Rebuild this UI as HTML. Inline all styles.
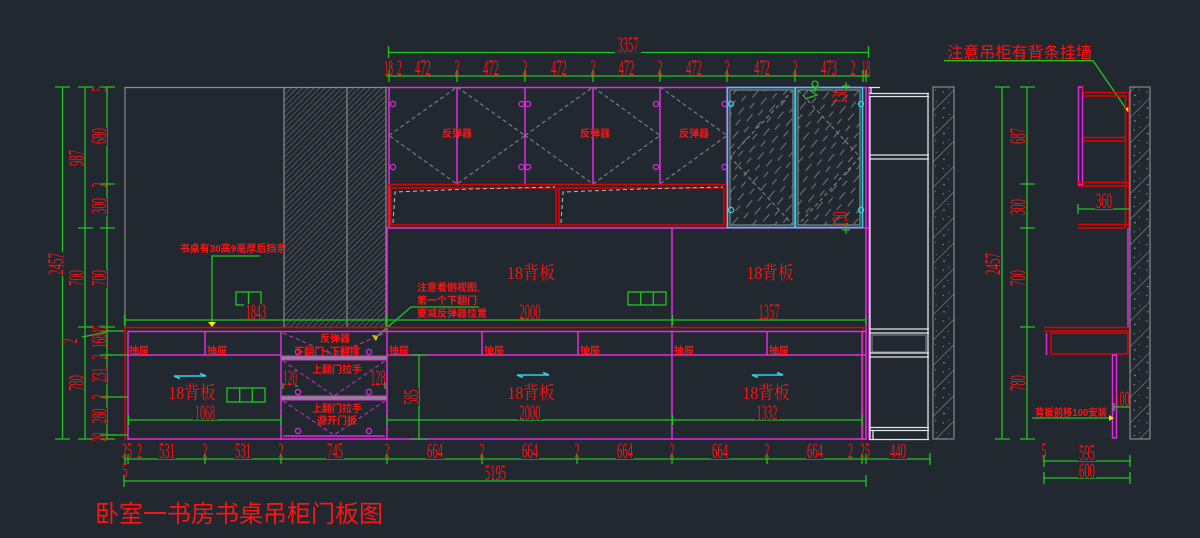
<!DOCTYPE html>
<html><head><meta charset="utf-8"><style>
html,body{margin:0;padding:0;background:#212830;width:1200px;height:538px;overflow:hidden}
svg{display:block}
.g{stroke:#22c422;stroke-width:1.3;fill:none}
.m{stroke:#e02de0;stroke-width:1.5;fill:none}
.r{stroke:#e00000;stroke-width:1.5;fill:none}
.gr{stroke:#8a8a8a;stroke-width:1.2;fill:none}
.c{stroke:#2fd3ea;stroke-width:1.6;fill:none}
.w{stroke:#e6e6e6;stroke-width:1.3;fill:none}
.dm{stroke:#d030d0;stroke-width:1;fill:none;stroke-dasharray:4 3}
.dg{stroke:#8c8c8c;stroke-width:1;fill:none;stroke-dasharray:4 3}
text{fill:#ff1414}
.d{font-family:"Liberation Serif",serif;font-size:22px}
.s{font-family:"Liberation Sans","Noto Sans CJK SC",sans-serif;font-size:10px;font-weight:bold}
.b{font-family:"Liberation Serif","Noto Serif CJK SC",serif;font-size:18px}
.bg{fill:#212830}
</style></head><body>
<svg width="1200" height="538" viewBox="0 0 1200 538" xmlns="http://www.w3.org/2000/svg">
<defs>
<pattern id="h1" width="4" height="4" patternUnits="userSpaceOnUse" patternTransform="rotate(45)"><line x1="0" y1="0" x2="0" y2="4" stroke="#7d7d7d" stroke-width="1"/></pattern>
<pattern id="hg" width="11" height="22" patternUnits="userSpaceOnUse" patternTransform="rotate(40)"><line x1="1" y1="0" x2="1" y2="9" stroke="#8a8a8a" stroke-width="0.8"/><line x1="6" y1="12" x2="6" y2="19" stroke="#8a8a8a" stroke-width="0.8"/></pattern>
<pattern id="hw" width="18" height="18" patternUnits="userSpaceOnUse" patternTransform="rotate(45)"><line x1="0" y1="0" x2="0" y2="18" stroke="#9a9a9a" stroke-width="1"/><circle cx="6" cy="3" r="0.7" fill="#b0b0b0"/><circle cx="12" cy="10" r="0.6" fill="#b0b0b0"/><circle cx="5" cy="14" r="0.5" fill="#b0b0b0"/><circle cx="14" cy="4" r="0.5" fill="#b0b0b0"/></pattern>
</defs>
<rect width="1200" height="538" fill="#212830"/>

<!-- ===== TOP DIMENSIONS ===== -->
<path class="g" d="M388 52.5H868 M388.5 46v12 M868.5 46v12 M386 76H870"/>
<path class="g" d="M389 70v12 M457 70v12 M525 70v12 M593 70v12 M660 70v12 M727 70v12 M795 70v12 M863 70v12 M866 70v12"/>
<rect class="bg" x="615" y="37" width="26" height="16"/>
<text class="d" x="628" y="52" text-anchor="middle" textLength="21" lengthAdjust="spacingAndGlyphs">3357</text>
<g class="d" text-anchor="middle">
<text x="388.5" y="75" textLength="9" lengthAdjust="spacingAndGlyphs">18</text>
<text x="399.5" y="75" textLength="5" lengthAdjust="spacingAndGlyphs">2</text>
<text x="423" y="75" textLength="16" lengthAdjust="spacingAndGlyphs">472</text>
<text x="457" y="75" textLength="5" lengthAdjust="spacingAndGlyphs">2</text>
<text x="491" y="75" textLength="16" lengthAdjust="spacingAndGlyphs">472</text>
<text x="525" y="75" textLength="5" lengthAdjust="spacingAndGlyphs">2</text>
<text x="559" y="75" textLength="16" lengthAdjust="spacingAndGlyphs">472</text>
<text x="593" y="75" textLength="5" lengthAdjust="spacingAndGlyphs">2</text>
<text x="626.5" y="75" textLength="16" lengthAdjust="spacingAndGlyphs">472</text>
<text x="660" y="75" textLength="5" lengthAdjust="spacingAndGlyphs">2</text>
<text x="694" y="75" textLength="16" lengthAdjust="spacingAndGlyphs">472</text>
<text x="727" y="75" textLength="5" lengthAdjust="spacingAndGlyphs">2</text>
<text x="762" y="75" textLength="16" lengthAdjust="spacingAndGlyphs">472</text>
<text x="795" y="75" textLength="5" lengthAdjust="spacingAndGlyphs">2</text>
<text x="829" y="75" textLength="16" lengthAdjust="spacingAndGlyphs">473</text>
<text x="853" y="75" textLength="5" lengthAdjust="spacingAndGlyphs">2</text>
<text x="866" y="75" textLength="9" lengthAdjust="spacingAndGlyphs">18</text>
</g>

<!-- ===== LEFT PANEL & HATCH COLUMNS ===== -->
<path class="gr" d="M124.5 87.5H388 M125 87V328"/>
<rect x="284" y="87.5" width="102" height="240" fill="url(#h1)"/>
<path class="gr" d="M284 87.5V328 M347 87.5V328 M386 87.5V328"/>

<!-- ===== UPPER CABINET ===== -->
<path class="m" d="M388 87.5H869 M389 87V228 M457 87V184 M525 87V184 M593 87V184 M660 87V184 M727 87V228 M866 87V440 M869 87V440"/>
<path class="dg" d="M389 135.5L457 87L525 135.5L457 184Z M525 135.5L593 87L660 135.5L593 184Z M660 87L727 135.5L660 184"/>
<g fill="none" stroke="#e02de0" stroke-width="1.2">
<circle cx="393" cy="104" r="2.6"/><circle cx="393" cy="167" r="2.6"/>
<circle cx="521.5" cy="104" r="2.6"/><circle cx="528" cy="104" r="2.6"/>
<circle cx="521.5" cy="167" r="2.6"/><circle cx="528" cy="167" r="2.6"/>
<circle cx="656" cy="104" r="2.6"/><circle cx="656" cy="167" r="2.6"/>
<circle cx="724.5" cy="104" r="2.6"/><circle cx="724.5" cy="167" r="2.6"/>
</g>
<text class="s" x="457" y="137" text-anchor="middle">反弹器</text>
<text class="s" x="595" y="137" text-anchor="middle">反弹器</text>
<text class="s" x="694" y="137" text-anchor="middle">反弹器</text>
<rect class="r" x="388" y="184.5" width="339" height="43"/>
<rect class="r" x="391" y="188" width="165" height="37"/>
<rect class="r" x="559" y="188" width="165" height="37"/>
<path d="M393 223L395 192L470 189L555 187 M561 223L563 192L640 189L723 187" stroke="#bbbbbb" stroke-width="1" fill="none" stroke-dasharray="4 3"/>
<path class="m" d="M386 228H869"/>

<!-- glass doors -->
<rect x="730" y="90" width="63" height="135" fill="url(#hg)"/>
<rect x="798" y="90" width="62" height="135" fill="url(#hg)"/>
<rect class="gr" x="730" y="90" width="63" height="135"/>
<rect class="gr" x="798" y="90" width="62" height="135"/>
<path class="dg" d="M793 90L730 157L793 225 M798 90L860 157L798 225"/>
<rect class="c" x="727.5" y="87.5" width="67.5" height="140"/>
<rect class="c" x="795.5" y="87.5" width="67" height="140"/>
<g fill="none" stroke="#2fd3ea" stroke-width="1.2">
<circle cx="731" cy="104" r="2.6"/><circle cx="731" cy="210" r="2.6"/>
<circle cx="861" cy="104" r="2.6"/><circle cx="861" cy="210" r="2.6"/>
</g>
<path class="g" d="M805 99L817 95L811 91L819 87 M846 82v8 M842 86h8 M846 226v8 M842 230h8"/>
<circle cx="815" cy="84" r="3" class="g"/>
<text class="d" transform="translate(847,96) rotate(-90)" text-anchor="middle" textLength="15" lengthAdjust="spacingAndGlyphs">130</text>
<text class="d" transform="translate(847,219) rotate(-90)" text-anchor="middle" textLength="15" lengthAdjust="spacingAndGlyphs">130</text>

<!-- ===== MIDDLE SECTION ===== -->
<path class="m" d="M387 228V440 M672 228V328"/>
<text class="b" x="531" y="279" text-anchor="middle" textLength="48" lengthAdjust="spacingAndGlyphs">18背板</text>
<text class="b" x="770" y="279" text-anchor="middle" textLength="47" lengthAdjust="spacingAndGlyphs">18背板</text>
<rect class="g" x="628" y="292" width="38" height="13"/><path class="g" d="M640.7 292v13 M653.3 292v13"/>
<rect class="g" x="236" y="292" width="25" height="13"/><path class="g" d="M248.5 292v13"/>
<text class="s" x="417" y="291" font-size="9.5">注意看侧视图,</text>
<text class="s" x="417" y="304" font-size="9.5">第一个下翻门</text>
<text class="s" x="417" y="317" font-size="9.5">要减反弹器位置</text>
<path class="g" d="M479 307H411L375 338"/>
<path d="M372 335l6 1-2 5z" fill="#ffe000"/>
<text class="s" x="233" y="252" text-anchor="middle" font-size="10.5">书桌有30高9毫厚后挡条</text>
<path class="g" d="M260 256H212V325"/>
<path d="M208 322h8l-4 5z" fill="#ffe000"/>

<!-- dim y=320 -->
<path class="g" d="M124 320H866 M124.5 315v10 M386.5 315v10 M672.5 315v10 M866 315v10"/>
<rect class="bg" x="244" y="304" width="24" height="15"/>
<text class="d" x="256" y="319" text-anchor="middle" textLength="20" lengthAdjust="spacingAndGlyphs">1843</text>
<rect class="bg" x="518" y="304" width="24" height="15"/>
<text class="d" x="530" y="319" text-anchor="middle" textLength="21" lengthAdjust="spacingAndGlyphs">2000</text>
<rect class="bg" x="757" y="304" width="24" height="15"/>
<text class="d" x="769" y="319" text-anchor="middle" textLength="21" lengthAdjust="spacingAndGlyphs">1357</text>

<!-- ===== DESK / LOWER ===== -->
<path class="r" d="M124 327.5H866 M125 327V440 M863 327V440"/>
<path class="m" d="M128 331.5H866 M128 331V440 M128 355H281 M387 355H866 M205 331V355 M482 331V355 M578 331V355 M767 331V355 M281 331V440 M672 331V440 M862 331V440 M128 439H866"/>
<g class="s" font-size="8.5">
<text x="129" y="354">抽屉</text><text x="207" y="354">抽屉</text><text x="389" y="354">抽屉</text>
<text x="484" y="354">抽屉</text><text x="580" y="354">抽屉</text><text x="674" y="354">抽屉</text><text x="769" y="354">抽屉</text>
</g>
<!-- middle drawer/flap unit -->
<rect x="281" y="356" width="106" height="4" fill="#8a8a8a" stroke="#e02de0" stroke-width="1"/>
<rect x="281" y="396" width="106" height="4" fill="#8a8a8a" stroke="#e02de0" stroke-width="1"/>
<path class="m" d="M283 436H385"/>
<path class="dm" d="M283 333L334 355L385 333 M283 361L334 396L385 361 M283 401L334 435L385 401"/>
<g fill="none" stroke="#e02de0" stroke-width="1.2">
<circle cx="298" cy="352" r="2.6"/><circle cx="369" cy="352" r="2.6"/>
<circle cx="298" cy="392" r="2.6"/><circle cx="369" cy="392" r="2.6"/>
<circle cx="298" cy="431" r="2.6"/><circle cx="369" cy="431" r="2.6"/>
</g>
<text class="s" x="335" y="342" text-anchor="middle">反弹器</text>
<text class="s" x="327" y="355" text-anchor="middle">下翻门+下翻撑</text>
<text class="s" x="337" y="373" text-anchor="middle">上翻门拉手</text>
<text class="s" x="337" y="412" text-anchor="middle">上翻门拉手</text>
<text class="s" x="337" y="424" text-anchor="middle">避开门板</text>
<text class="d" x="290" y="385" text-anchor="middle" textLength="14" lengthAdjust="spacingAndGlyphs">120</text>
<text class="d" x="378" y="385" text-anchor="middle" textLength="15" lengthAdjust="spacingAndGlyphs">128</text>
<path class="g" d="M283 383v6 M298 386h-3 M385 383v6"/>

<!-- lower texts -->
<text class="b" x="192" y="399" text-anchor="middle" textLength="47" lengthAdjust="spacingAndGlyphs">18背板</text>
<text class="b" x="531" y="399" text-anchor="middle" textLength="47" lengthAdjust="spacingAndGlyphs">18背板</text>
<text class="b" x="766" y="399" text-anchor="middle" textLength="47" lengthAdjust="spacingAndGlyphs">18背板</text>
<path d="M174 376H206 M174 376l6 2.5 M206 376l-6 -2.5 M517 375H549 M517 375l6 2.5 M549 375l-6 -2.5 M752 375H783 M752 375l6 2.5 M783 375l-6 -2.5" stroke="#2fd3ea" stroke-width="1.6" fill="none"/>
<rect class="g" x="227" y="388" width="38" height="14"/><path class="g" d="M239.7 388v14 M252.3 388v14"/>
<!-- dims y=420 -->
<path class="g" d="M128 420H281 M128.5 415v10 M281 415v10 M387 420H862 M387 415v10 M672.5 415v10 M862 415v10"/>
<rect class="bg" x="193" y="405" width="24" height="15"/>
<text class="d" x="205" y="420" text-anchor="middle" textLength="20" lengthAdjust="spacingAndGlyphs">1068</text>
<rect class="bg" x="518" y="405" width="24" height="15"/>
<text class="d" x="530" y="420" text-anchor="middle" textLength="21" lengthAdjust="spacingAndGlyphs">2000</text>
<rect class="bg" x="755" y="405" width="24" height="15"/>
<text class="d" x="767" y="420" text-anchor="middle" textLength="21" lengthAdjust="spacingAndGlyphs">1332</text>
<!-- 585 -->
<path class="g" d="M419 355V439 M411 355h16 M411 439h16"/>
<rect class="bg" x="403" y="388" width="16" height="18"/>
<text class="d" transform="translate(418.5,397) rotate(-90)" text-anchor="middle" textLength="15" lengthAdjust="spacingAndGlyphs">585</text>

<!-- ===== RIGHT COLUMN (main) ===== -->
<path class="w" d="M869 87.5H880 M871 87V93 M869 93.5H929 M869 96.5H929 M870 96V439 M928 93V440 M869 155H929 M869 159H929 M869 329H929 M869 333H929 M869 353H929 M869 357H929 M869 427.5H929 M869 430.5H929 M873 430V439 M869 439.5H929"/>
<rect x="872" y="335" width="54" height="17" fill="none" stroke="#8a8a8a" stroke-width="1"/>
<rect x="933" y="87" width="21" height="352" fill="url(#hw)"/>
<rect class="gr" x="933" y="87" width="21" height="352"/>

<!-- ===== BOTTOM DIMENSIONS ===== -->
<path class="g" d="M124 459H930 M124 481H866"/>
<path class="g" d="M125 454v10 M128 454v10 M205 454v10 M281 454v10 M387 454v10 M482 454v10 M577 454v10 M672 454v10 M767 454v10 M862 454v10 M866 454v10 M930 453v12 M866 475v12 M124 475v12"/>
<g class="d" text-anchor="middle">
<text x="127" y="458" textLength="10" lengthAdjust="spacingAndGlyphs">25</text>
<text x="139.5" y="458" textLength="5" lengthAdjust="spacingAndGlyphs">2</text>
<rect class="bg" x="158" y="443" width="18" height="16"/>
<text x="167" y="458" textLength="16" lengthAdjust="spacingAndGlyphs">531</text>
<text x="205" y="458" textLength="5" lengthAdjust="spacingAndGlyphs">2</text>
<rect class="bg" x="234" y="443" width="18" height="16"/>
<text x="243" y="458" textLength="16" lengthAdjust="spacingAndGlyphs">531</text>
<text x="281" y="458" textLength="5" lengthAdjust="spacingAndGlyphs">2</text>
<rect class="bg" x="326" y="443" width="18" height="16"/>
<text x="335" y="458" textLength="16" lengthAdjust="spacingAndGlyphs">745</text>
<text x="387" y="458" textLength="5" lengthAdjust="spacingAndGlyphs">2</text>
<rect class="bg" x="426" y="443" width="18" height="16"/>
<text x="435" y="458" textLength="16" lengthAdjust="spacingAndGlyphs">664</text>
<text x="482" y="458" textLength="5" lengthAdjust="spacingAndGlyphs">2</text>
<rect class="bg" x="521" y="443" width="18" height="16"/>
<text x="530" y="458" textLength="16" lengthAdjust="spacingAndGlyphs">664</text>
<text x="577" y="458" textLength="5" lengthAdjust="spacingAndGlyphs">2</text>
<rect class="bg" x="616" y="443" width="18" height="16"/>
<text x="625" y="458" textLength="16" lengthAdjust="spacingAndGlyphs">664</text>
<text x="672" y="458" textLength="5" lengthAdjust="spacingAndGlyphs">2</text>
<rect class="bg" x="711" y="443" width="18" height="16"/>
<text x="720" y="458" textLength="16" lengthAdjust="spacingAndGlyphs">664</text>
<text x="767" y="458" textLength="5" lengthAdjust="spacingAndGlyphs">2</text>
<rect class="bg" x="806" y="443" width="18" height="16"/>
<text x="815" y="458" textLength="16" lengthAdjust="spacingAndGlyphs">664</text>
<text x="850.5" y="458" textLength="5" lengthAdjust="spacingAndGlyphs">2</text>
<text x="865" y="458" textLength="10" lengthAdjust="spacingAndGlyphs">25</text>
<rect class="bg" x="889" y="443" width="18" height="16"/>
<text x="898" y="458" textLength="16" lengthAdjust="spacingAndGlyphs">440</text>
<text x="125" y="478" textLength="5" lengthAdjust="spacingAndGlyphs">5</text>
<text x="495.5" y="480" textLength="21" lengthAdjust="spacingAndGlyphs">5195</text>
</g>

<!-- ===== LEFT DIMENSIONS ===== -->
<path class="g" d="M62.5 87V439 M85 87V439 M107 87V439"/>
<path class="g" d="M55 87h15 M55 439h15 M78 87h15 M78 228h15 M78 327h15 M78 439h15 M100 87h15 M100 184h15 M100 228h15 M100 327h15 M100 331h15 M100 355h15 M100 397h15 M100 435h15 M100 439h15"/>
<path class="g" d="M107 331H124 M107 355H128 M107 397H128 M107 435H128 M82 337L107 332"/>
<rect class="bg" x="49" y="252" width="14" height="24"/>
<rect class="bg" x="69" y="150" width="15" height="18"/>
<rect class="bg" x="69" y="270" width="15" height="18"/>
<rect class="bg" x="69" y="375" width="15" height="18"/>
<rect class="bg" x="92" y="128" width="15" height="18"/>
<rect class="bg" x="92" y="198" width="15" height="18"/>
<rect class="bg" x="92" y="270" width="15" height="18"/>
<rect class="bg" x="92" y="368" width="15" height="16"/>
<rect class="bg" x="92" y="408" width="15" height="16"/>
<g class="d" text-anchor="middle">
<text transform="translate(63,264) rotate(-90)" textLength="22" lengthAdjust="spacingAndGlyphs">2457</text>
<text transform="translate(83.5,158) rotate(-90)" textLength="16" lengthAdjust="spacingAndGlyphs">987</text>
<text transform="translate(83.5,278) rotate(-90)" textLength="16" lengthAdjust="spacingAndGlyphs">700</text>
<text transform="translate(83.5,383) rotate(-90)" textLength="16" lengthAdjust="spacingAndGlyphs">780</text>
<text transform="translate(77,341) rotate(-90)" textLength="5" lengthAdjust="spacingAndGlyphs">2</text>
<text transform="translate(106.5,89) rotate(-90)" textLength="5" lengthAdjust="spacingAndGlyphs">5</text>
<text transform="translate(106.5,136) rotate(-90)" textLength="16" lengthAdjust="spacingAndGlyphs">680</text>
<text transform="translate(106.5,185) rotate(-90)" textLength="5" lengthAdjust="spacingAndGlyphs">2</text>
<text transform="translate(106.5,206) rotate(-90)" textLength="16" lengthAdjust="spacingAndGlyphs">300</text>
<text transform="translate(106.5,278) rotate(-90)" textLength="16" lengthAdjust="spacingAndGlyphs">700</text>
<text transform="translate(106.5,329) rotate(-90)" textLength="8" lengthAdjust="spacingAndGlyphs">15</text>
<text transform="translate(106.5,341) rotate(-90)" textLength="14" lengthAdjust="spacingAndGlyphs">168</text>
<text transform="translate(106.5,357) rotate(-90)" textLength="5" lengthAdjust="spacingAndGlyphs">2</text>
<text transform="translate(106.5,375) rotate(-90)" textLength="15" lengthAdjust="spacingAndGlyphs">231</text>
<text transform="translate(106.5,397) rotate(-90)" textLength="5" lengthAdjust="spacingAndGlyphs">2</text>
<text transform="translate(106.5,416) rotate(-90)" textLength="15" lengthAdjust="spacingAndGlyphs">280</text>
<text transform="translate(106.5,437) rotate(-90)" textLength="9" lengthAdjust="spacingAndGlyphs">20</text>
</g>

<!-- ===== SIDE VIEW ===== -->
<text x="947" y="58" font-family="'Liberation Sans','Noto Sans CJK SC',sans-serif" font-size="16" textLength="145" lengthAdjust="spacingAndGlyphs">注意吊柜有背条挂墙</text>
<path class="g" d="M944 60.7H1093L1127 110"/>
<path d="M1124 108l6 -1 -1 6z" fill="#ffe000"/>
<path class="g" d="M1002 87V439 M1027 87V439 M995 87h15 M995 439h15 M1020 87h15 M1020 184h15 M1020 228h15 M1020 327h15 M1020 439h15"/>
<rect class="bg" x="985" y="253" width="16" height="23"/>
<rect class="bg" x="1010" y="128" width="16" height="17"/>
<rect class="bg" x="1010" y="199" width="16" height="17"/>
<rect class="bg" x="1010" y="270" width="16" height="17"/>
<rect class="bg" x="1010" y="375" width="16" height="17"/>
<g class="d" text-anchor="middle">
<text transform="translate(1000,264) rotate(-90)" textLength="22" lengthAdjust="spacingAndGlyphs">2457</text>
<text transform="translate(1025,136) rotate(-90)" textLength="16" lengthAdjust="spacingAndGlyphs">687</text>
<text transform="translate(1025,207) rotate(-90)" textLength="16" lengthAdjust="spacingAndGlyphs">300</text>
<text transform="translate(1025,278) rotate(-90)" textLength="16" lengthAdjust="spacingAndGlyphs">700</text>
<text transform="translate(1025,383) rotate(-90)" textLength="16" lengthAdjust="spacingAndGlyphs">780</text>
</g>
<!-- side cabinet -->
<rect class="m" x="1078.5" y="87" width="4" height="98"/>
<path class="r" d="M1083 87V93 M1083 92.5H1130 M1083 96H1126 M1125.5 96V227 M1129 92V228 M1083 137.5H1125 M1083 141H1125 M1078 182.5H1130 M1078 186H1130 M1078 224.5H1130 M1078 228H1126"/>
<path class="g" d="M1078 209H1130 M1078 204v10"/>
<rect class="bg" x="1095" y="194" width="18" height="15"/>
<text class="d" x="1104" y="208" text-anchor="middle" textLength="16" lengthAdjust="spacingAndGlyphs">360</text>
<path class="m" d="M1128 228V327"/>
<path class="r" d="M1044 327.5H1130 M1044 331H1130"/>
<path class="m" d="M1046.5 333V355"/>
<rect class="r" x="1051" y="333" width="77" height="21"/>
<rect class="m" x="1112.5" y="355" width="4" height="83"/>
<rect x="1130" y="87" width="20" height="352" fill="url(#hw)"/>
<rect class="gr" x="1130" y="87" width="20" height="352"/>
<path class="g" d="M1114 407H1130 M1114 403v8"/>
<text class="d" x="1122" y="406" text-anchor="middle" textLength="15" lengthAdjust="spacingAndGlyphs">100</text>
<text class="s" x="1035" y="416" font-size="10.5" textLength="72" lengthAdjust="spacingAndGlyphs">背板前移100安装</text>
<path class="g" d="M1032 418H1110"/>
<path d="M1109 415l5 3-5 3z" fill="#ffe000"/>
<path class="g" d="M1043 461H1130 M1043 478H1130 M1044 455v12 M1130 455v12 M1044 472v12 M1130 472v12"/>
<g class="d" text-anchor="middle">
<text x="1044" y="458" textLength="5" lengthAdjust="spacingAndGlyphs">5</text>
<rect class="bg" x="1078" y="445" width="18" height="16"/>
<text x="1087" y="460" textLength="16" lengthAdjust="spacingAndGlyphs">595</text>
<rect class="bg" x="1078" y="463" width="18" height="15"/>
<text x="1087" y="478" textLength="16" lengthAdjust="spacingAndGlyphs">600</text>
</g>

<!-- ===== TITLE ===== -->
<text x="95" y="522" font-family="'Liberation Sans','Noto Sans CJK SC',sans-serif" font-size="24" textLength="288" lengthAdjust="spacingAndGlyphs" fill="#ff0a0a">卧室一书房书桌吊柜门板图</text>
</svg>
</body></html>
